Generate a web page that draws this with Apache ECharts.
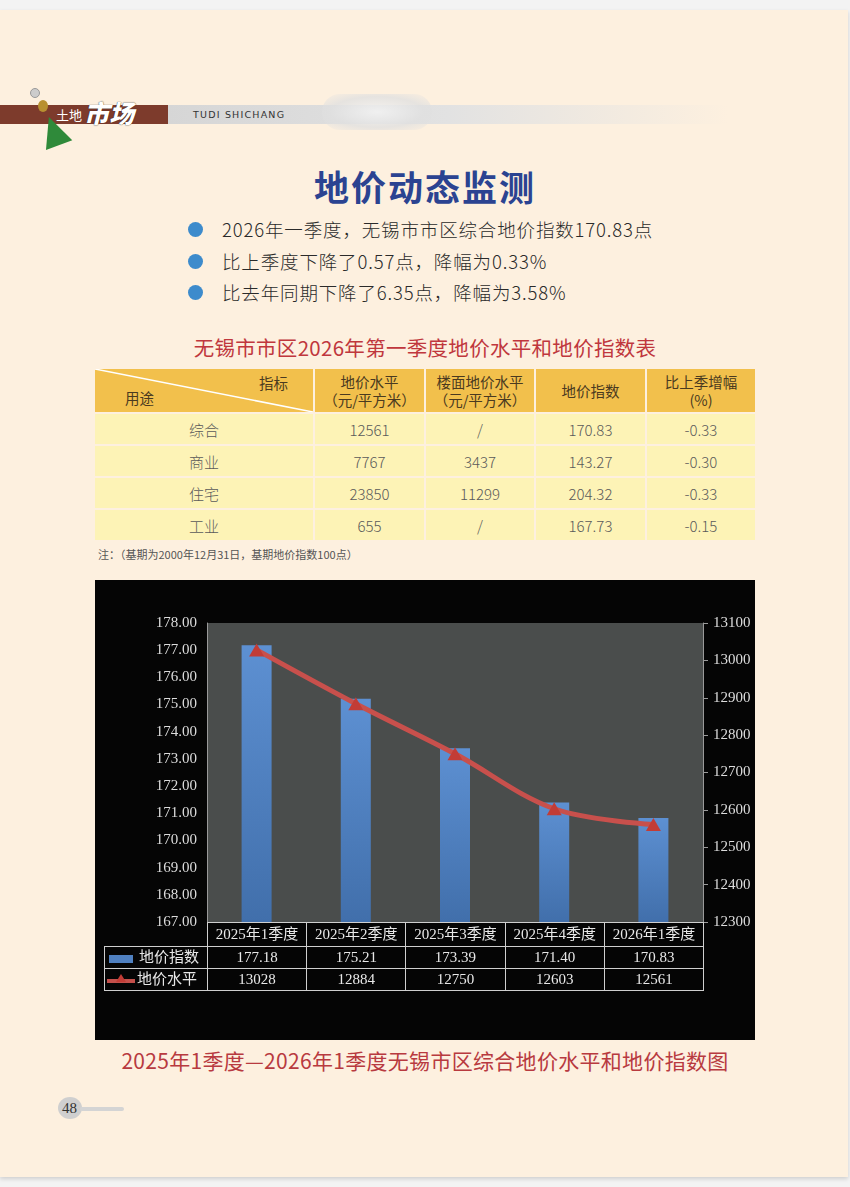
<!DOCTYPE html>
<html><head><meta charset="utf-8">
<script src="https://cdn.jsdelivr.net/npm/echarts@6/dist/echarts.min.js"></script>
<style>
html,body{margin:0;padding:0;}
body{width:850px;height:1187px;position:relative;overflow:hidden;background:#f3f3f3;font-family:"Noto Sans CJK SC","Noto Sans",sans-serif;}
#page{position:absolute;left:0;top:10px;width:848px;height:1167px;background:#fdf0df;box-shadow:0 2px 4px rgba(0,0,0,0.15);}
.abs{position:absolute;}
#hdrBrown{left:0;top:105px;width:168px;height:19px;background:#7d3b2c;}
#hdrGray{left:168px;top:105px;width:560px;height:19px;background:linear-gradient(90deg,#d6d6d6 0%,#e2e2e2 50%,rgba(236,232,226,0) 100%);}
#title{left:0;width:850px;top:164px;text-align:center;font-size:35px;font-weight:700;line-height:44px;color:#2b4391;letter-spacing:2px;}
.bullet{left:188px;width:15px;height:15px;border-radius:50%;background:#3d8bcc;}
.btext{left:222px;font-size:18.5px;color:#2a2a2a;line-height:24px;white-space:nowrap;letter-spacing:0.85px;font-weight:300;}
#tblTitle{left:0;width:850px;top:333px;text-align:center;font-size:20.5px;color:#c0373d;line-height:28px;letter-spacing:0.3px;}
#tbl{position:absolute;left:93px;top:367px;border-collapse:separate;border-spacing:2px;}
#tbl td{padding:0;text-align:center;color:#5a5a5a;font-size:15px;font-weight:300;}
#tbl tr.h td{background:#f2c04c;height:43px;line-height:18px;font-size:14.5px;color:#4a3a20;font-weight:400;}
#tbl tr.r td{background:#fdf3b6;height:30px;}
#note{left:98px;top:546px;font-size:11px;color:#555;}
#chartBox{left:95px;top:580px;width:660px;height:460px;background:#050505;}
#chart{position:absolute;left:0;top:0;width:660px;height:460px;}
#caption{left:0;width:850px;top:1045px;text-align:center;font-size:21px;color:#b83a3f;line-height:30px;letter-spacing:0.3px;}
.dc{position:absolute;box-sizing:border-box;border:1px solid #cfcfcf;color:#e8e8e8;font-family:"Liberation Serif","Noto Sans CJK SC",serif;font-size:15px;text-align:center;}
</style></head>
<body>
<div id="page">
</div>
<div class="abs" id="hdrGray"></div>
<div class="abs" id="hdrBrown"></div>
<div class="abs" style="left:30px;top:88px;width:8px;height:8px;border-radius:50%;background:#ccc;border:1px solid #999;"></div>
<div class="abs" style="left:38px;top:100px;width:10px;height:12px;border-radius:50%;background:#b89030;"></div>
<div class="abs" style="left:40px;top:116px;width:0;height:0;border-left:14px solid transparent;border-right:14px solid transparent;border-bottom:30px solid #2f8a3a;transform:rotate(-20deg);"></div>
<div class="abs" style="left:56px;top:105px;font-size:13px;line-height:19px;color:#fff;">土地</div>
<div class="abs" style="left:84px;top:96px;font-size:25px;line-height:32px;color:#fff;font-family:'Noto Sans CJK SC';font-weight:900;font-style:italic;text-shadow:0 0 1px #000;">市场</div>
<div class="abs" style="left:193px;top:105px;font-size:9.5px;line-height:20px;color:#333;letter-spacing:1.2px;font-family:'DejaVu Sans';">TUDI SHICHANG</div>
<div class="abs" style="left:322px;top:94px;width:110px;height:36px;border-radius:18px;background:radial-gradient(ellipse at center,#f4f4f4 0%,#e0e0e0 60%,rgba(230,230,230,0) 100%);opacity:0.8;"></div>

<div class="abs" id="title">地价动态监测</div>
<div class="abs bullet" style="top:222px;"></div>
<div class="abs btext" style="top:217px;">2026年一季度，无锡市市区综合地价指数170.83点</div>
<div class="abs bullet" style="top:254px;"></div>
<div class="abs btext" style="top:249px;">比上季度下降了0.57点，降幅为0.33%</div>
<div class="abs bullet" style="top:285px;"></div>
<div class="abs btext" style="top:280px;">比去年同期下降了6.35点，降幅为3.58%</div>

<div class="abs" id="tblTitle">无锡市市区2026年第一季度地价水平和地价指数表</div>
<table id="tbl"></table>
<div class="abs" id="note">注：（基期为2000年12月31日，基期地价指数100点）</div>

<div class="abs" id="chartBox"><div id="chart"></div></div>
<div class="abs" id="caption">2025年1季度—2026年1季度无锡市区综合地价水平和地价指数图</div>

<div class="abs" style="left:58px;top:1097px;width:24px;height:22px;border-radius:50%;background:#cfcfcf;"></div>
<div class="abs" style="left:80px;top:1107px;width:44px;height:4px;border-radius:2px;background:#d4d4d4;"></div>
<div class="abs" style="left:62px;top:1098px;font-size:15px;line-height:20px;color:#333;font-family:'Liberation Serif',serif;">48</div>

<script>
// ---- top table data ----
var tableUses = ['综合','商业','住宅','工业'];
var tableLandPrice = ['12561','7767','23850','655'];
var tableFloorPrice = ['/','3437','11299','/'];
var tableIndex = ['170.83','143.27','204.32','167.73'];
var tableChange = ['-0.33','-0.30','-0.33','-0.15'];

// ---- chart data ----
var categories = ['2025年1季度','2025年2季度','2025年3季度','2025年4季度','2026年1季度'];
var indexValues = [177.18, 175.21, 173.39, 171.40, 170.83];
var priceValues = [13028, 12884, 12750, 12603, 12561];
var indexLabels = ['177.18','175.21','173.39','171.40','170.83'];
var seriesNames = ['地价指数','地价水平'];

// build top table
(function(){
  var t = document.getElementById('tbl');
  var h = '<tr class="h">' +
    '<td style="width:218px;position:relative;">' +
      '<svg width="218" height="43" style="position:absolute;left:0;top:0;"><line x1="0" y1="0" x2="218" y2="43" stroke="#fff" stroke-width="1.5"/></svg>' +
      '<span style="position:absolute;left:164px;top:5px;">指标</span>' +
      '<span style="position:absolute;left:30px;top:20px;">用途</span></td>' +
    '<td style="width:109px;">地价水平<br>（元/平方米）</td>' +
    '<td style="width:108px;">楼面地价水平<br>（元/平方米）</td>' +
    '<td style="width:109px;">地价指数</td>' +
    '<td style="width:108px;">比上季增幅<br>(%)</td></tr>';
  for (var i=0;i<tableUses.length;i++){
    h += '<tr class="r"><td>'+tableUses[i]+'</td><td>'+tableLandPrice[i]+'</td><td>'+tableFloorPrice[i]+
      '</td><td>'+tableIndex[i]+'</td><td>'+tableChange[i]+'</td></tr>';
  }
  t.innerHTML = h;
})();

var gridLeft = 112, gridTop = 43, gridW = 496, gridH = 299;

var chart = echarts.init(document.getElementById('chart'));
chart.setOption({
  backgroundColor: 'transparent',
  animation: false,
  grid: {left: gridLeft, top: gridTop, width: gridW, height: gridH, show: true,
         backgroundColor: '#4a4d4c', borderWidth: 0},
  xAxis: {type: 'category', data: categories, axisLine: {show: false}, axisTick: {show: false},
          axisLabel: {show: false}},
  yAxis: [
    {type: 'value', min: 167, max: 178, interval: 1,
     axisLine: {show: true, lineStyle: {color: '#9a9a9a', width: 1}},
     axisTick: {show: false}, splitLine: {show: false},
     axisLabel: {color: '#dcdcdc', fontSize: 15, margin: 10, fontFamily: 'Liberation Serif',
                 formatter: function(v){ return v.toFixed(2); }}},
    {type: 'value', min: 12300, max: 13100, interval: 100, position: 'right',
     axisLine: {show: true, lineStyle: {color: '#9a9a9a', width: 1}},
     axisTick: {show: true, length: 5, lineStyle: {color: '#9a9a9a'}}, splitLine: {show: false},
     axisLabel: {color: '#dcdcdc', fontSize: 15, margin: 10, fontFamily: 'Liberation Serif',
                 formatter: function(v){ return String(v); }}}
  ],
  series: [
    {name: seriesNames[0], type: 'bar', yAxisIndex: 0, data: indexValues, barWidth: 30,
     itemStyle: {color: new echarts.graphic.LinearGradient(0,0,0,1,[
       {offset:0,color:'#5d90d2'},{offset:1,color:'#416fab'}])}},
    {name: seriesNames[1], type: 'line', yAxisIndex: 1, data: priceValues, smooth: 0.35,
     lineStyle: {color: '#c8504c', width: 5},
     symbol: 'triangle', symbolSize: [15, 13],
     itemStyle: {color: '#c23c36'}, z: 5}
  ]
});

// data table under the chart (built from arrays)
(function(){
  var box = document.getElementById('chartBox');
  var colW = gridW / categories.length;
  var rowTop = gridTop + gridH;
  var rowH = [24, 22, 22];
  var leftX = 9;
  function cell(x, y, w, h, html, extra){
    var d = document.createElement('div');
    d.className = 'dc';
    d.style.left = x+'px'; d.style.top = y+'px'; d.style.width = w+'px'; d.style.height = h+'px';
    d.style.lineHeight = (h-2)+'px';
    if (extra) d.style.cssText += extra;
    d.innerHTML = html;
    box.appendChild(d);
  }
  var y0 = rowTop, y1 = rowTop + rowH[0], y2 = y1 + rowH[1];
  for (var i=0;i<categories.length;i++){
    var x = gridLeft + i*colW;
    cell(x, y0, colW+1, rowH[0]+1, categories[i]);
    cell(x, y1, colW+1, rowH[1]+1, indexLabels[i]);
    cell(x, y2, colW+1, rowH[2]+1, String(priceValues[i]));
  }
  cell(leftX, y1, gridLeft-leftX+1, rowH[1]+1,
    '<span style="display:inline-block;width:24px;height:8px;background:#4f80c0;vertical-align:middle;margin-right:6px;"></span>'+seriesNames[0],
    'text-align:left;padding-left:4px;');
  cell(leftX, y2, gridLeft-leftX+1, rowH[2]+1,
    '<span style="display:inline-block;position:relative;width:28px;height:4px;background:#c4504b;vertical-align:middle;margin-right:2px;">'+
    '<span style="position:absolute;left:9px;top:-5px;width:0;height:0;border-left:5px solid transparent;border-right:5px solid transparent;border-bottom:8px solid #c23c36;"></span></span>'+seriesNames[1],
    'text-align:left;padding-left:2px;');
})();
</script>
</body></html>
